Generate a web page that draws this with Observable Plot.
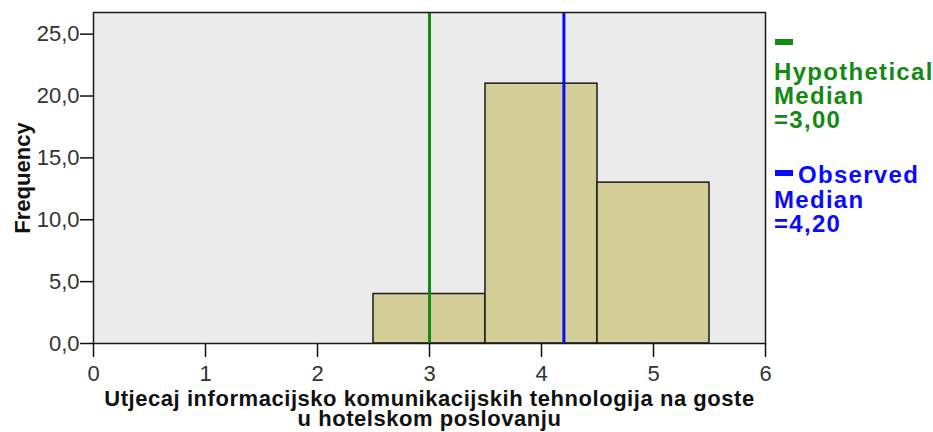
<!DOCTYPE html>
<html><head><meta charset="utf-8">
<script src="https://cdn.jsdelivr.net/npm/d3@7"></script>
<script src="https://cdn.jsdelivr.net/npm/@observablehq/plot@0.6"></script>
<style>
body{margin:0;background:#fff;}
#wrap{position:relative;width:933px;height:432px;font-family:"Liberation Sans",Arial,sans-serif;}
.leg{position:absolute;font-weight:bold;font-size:24px;line-height:24px;white-space:pre;letter-spacing:1.3px;}
.dash{position:absolute;width:18px;height:6px;}
</style></head><body><div id="wrap"></div>
<script>
const binStart = [2.5, 3.5, 4.5];
const binEnd = [3.5, 4.5, 5.5];
const frequency = [4, 21, 13];
const hypotheticalMedian = 3.00;
const observedMedian = 4.20;
const xTicks = [0, 1, 2, 3, 4, 5, 6];
const yTicks = [0, 5, 10, 15, 20, 25];
const xTitle = "Utjecaj informacijsko komunikacijskih tehnologija na goste\nu hotelskom poslovanju";
const yTitle = "Frequency";
const hypLabel = ["Hypothetical", "Median\n=3,00"];
const obsLabel = ["Observed", "Median\n=4,20"];

const green = "#138a13", blue = "#0a0aff";
const bins = binStart.map((s, i) => ({x1: s, x2: binEnd[i], y: frequency[i]}));
const comma = d => d.toFixed(1).replace(".", ",");

const chart = Plot.plot({
  width: 933, height: 432,
  marginLeft: 93, marginRight: 168, marginTop: 12, marginBottom: 89,
  style: {fontFamily: '"Liberation Sans", Arial, sans-serif', background: "#fff"},
  x: {domain: [0, 6]},
  y: {domain: [0, 26.75]},
  marks: [
    Plot.frame({fill: "#ebebeb", stroke: null}),
    Plot.rectY(bins, {x1: "x1", x2: "x2", y: "y", fill: "#d3ce98", stroke: "#1a1a1a", strokeWidth: 1.5}),
    Plot.ruleX([hypotheticalMedian], {stroke: green, strokeWidth: 3}),
    Plot.ruleX([observedMedian], {stroke: blue, strokeWidth: 3}),
    Plot.frame({stroke: "#1a1a1a", strokeWidth: 1.5}),
    Plot.axisY({ticks: yTicks, tickFormat: comma, tickSize: 13, tickPadding: 1, fontSize: 22, label: null, stroke: "#111", fill: "#333", strokeWidth: 1.5}),
    Plot.axisX({ticks: xTicks, tickFormat: d => String(d), tickSize: 14, tickPadding: 8, fontSize: 22, label: null, stroke: "#111", fill: "#333", strokeWidth: 1.5}),
    Plot.text([xTitle], {frameAnchor: "bottom", dy: 48.5, lineAnchor: "top", lineHeight: 0.91, fontSize: 22, fontWeight: "bold", fill: "#111", textAnchor: "middle"}),
    Plot.text([yTitle], {frameAnchor: "left", dx: -71, rotate: -90, fontSize: 22, fontWeight: "bold", fill: "#111", textAnchor: "middle", lineAnchor: "middle"})
  ]
});
d3.select(chart).selectAll("text")
  .filter(function() { return this.textContent.startsWith("Utjecaj"); })
  .style("letter-spacing", "0.55px");
const wrap = document.getElementById("wrap");
wrap.appendChild(chart);

function addDiv(cls, left, top, color, text) {
  const d = document.createElement("div");
  d.className = cls;
  d.style.left = left + "px"; d.style.top = top + "px";
  if (cls === "dash") d.style.background = color; else { d.style.color = color; d.textContent = text; }
  wrap.appendChild(d);
}
addDiv("dash", 775, 39, green);
addDiv("leg", 774, 60, green, hypLabel[0] + "\n" + hypLabel[1]);
addDiv("dash", 775, 170, blue);
addDiv("leg", 798, 163, blue, obsLabel[0]);
addDiv("leg", 774, 188, blue, obsLabel[1]);
</script></body></html>
